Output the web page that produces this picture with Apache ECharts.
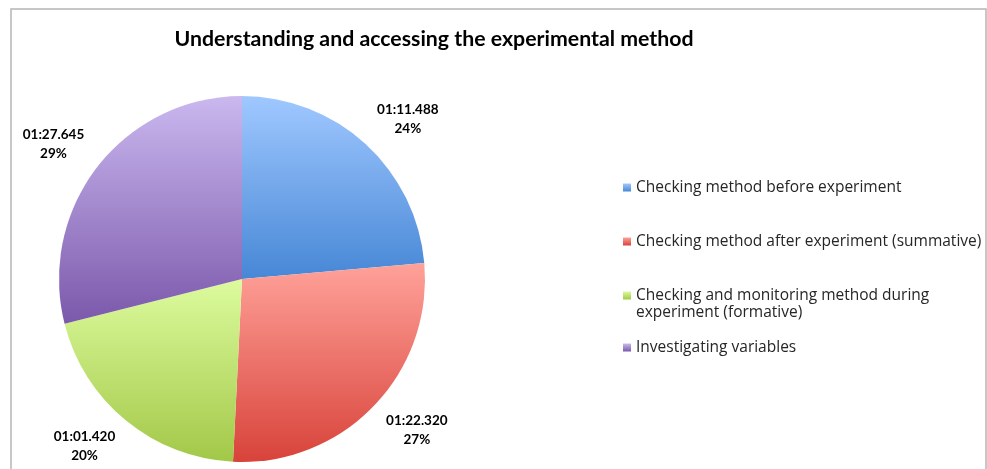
<!DOCTYPE html>
<html>
<head>
<meta charset="utf-8">
<script src="https://cdn.jsdelivr.net/npm/echarts@6/dist/echarts.min.js"></script>
<style>
html,body{margin:0;padding:0;background:#fff;}
#c{width:987px;height:469px;}
</style>
</head>
<body>
<div id="c"></div>
<script>
// Data
const titleText = 'Understanding and accessing the experimental method';
const categories = [
  'Checking method before experiment',
  'Checking method after experiment (summative)',
  'Checking and monitoring method during experiment (formative)',
  'Investigating variables'
];
const timeLabels = ['01:11.488', '01:22.320', '01:01.420', '01:27.645'];
const seconds = [71.488, 82.320, 61.420, 87.645];
const percentLabels = ['24%', '27%', '20%', '29%'];

// Styles
const topColors = ['#a0c8ff', '#ffa29a', '#ddfb9e', '#cab8ef'];
const bottomColors = ['#4787d6', '#d8433a', '#a2c848', '#7b58ab'];
const CX = 242, CY = 279;

const chart = echarts.init(document.getElementById('c'), null, {renderer: 'canvas'});

function grad(i) {
  return new echarts.graphic.LinearGradient(0, 0, 0, 1, [
    {offset: 0, color: topColors[i]},
    {offset: 1, color: bottomColors[i]}
  ]);
}

const mainData = categories.map((n, i) => ({
  name: n, value: seconds[i], itemStyle: {color: grad(i)}
}));
const labelData = categories.map((n, i) => ({
  name: n, value: seconds[i], tl: timeLabels[i], pl: percentLabels[i]
}));

const legendTops = [174, 228, 265, 334];
const legends = categories.map((n, i) => ({
  data: [n],
  left: 618,
  top: legendTops[i],
  orient: 'vertical',
  icon: 'rect',
  itemWidth: 8,
  itemHeight: 8,
  selectedMode: false,
  formatter: function (name) {
    if (name === categories[2]) return ' \nChecking and monitoring method during\nexperiment (formative)';
    return name;
  },
  textStyle: {
    fontFamily: 'Open Sans',
    fontSize: 15.5,
    color: '#262626',
    lineHeight: 17
  }
}));

chart.setOption({
  animation: false,
  backgroundColor: '#fff',
  graphic: [{
    type: 'rect',
    shape: {x: 11, y: 9, width: 975, height: 480},
    style: {fill: 'none', stroke: '#b5b5b5', lineWidth: 1.5},
    silent: true
  }],
  title: {
    text: titleText,
    left: 429,
    textAlign: 'center',
    top: 24,
    textStyle: {fontFamily: 'Lato', fontWeight: 'bold', fontSize: 21.3, color: '#000'}
  },
  legend: legends,
  series: [
    {
      type: 'pie',
      center: [CX, CY],
      radius: 183,
      startAngle: 90,
      clockwise: true,
      silent: true,
      label: {show: false},
      labelLine: {show: false},
      itemStyle: {borderWidth: 0},
      data: mainData
    },
    {
      type: 'pie',
      center: [CX, CY],
      radius: [192, 202],
      startAngle: 90,
      clockwise: true,
      silent: true,
      legendHoverLink: false,
      itemStyle: {color: 'rgba(0,0,0,0)'},
      labelLine: {show: false},
      label: {
        show: true,
        position: 'inside',
        rotate: 0,
        formatter: function (p) { return p.data.tl + '\n' + p.data.pl; },
        fontFamily: 'Lato',
        fontWeight: 'bold',
        fontSize: 13.5,
        lineHeight: 19,
        color: '#000'
      },
      labelLayout: function (p) {
        const r = p.labelRect;
        const mx = r.x + r.width / 2, my = r.y + r.height / 2;
        return {
          dx: (mx > CX ? 1 : -1) * r.width / 2,
          dy: (my > CY ? 1 : -1) * (r.height / 2 - 7)
        };
      },
      data: labelData
    }
  ]
});
</script>
</body>
</html>
